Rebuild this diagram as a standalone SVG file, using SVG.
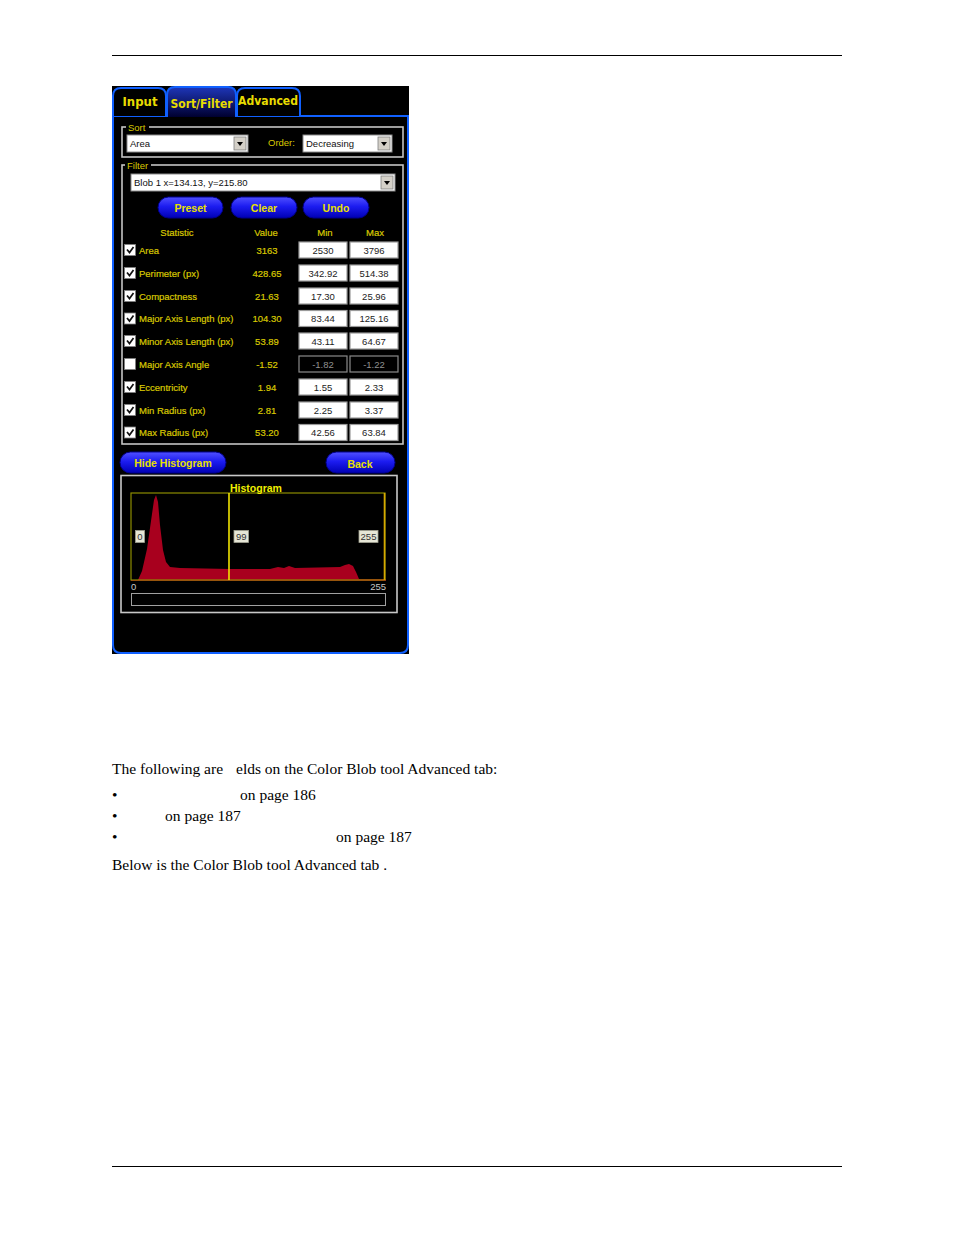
<svg xmlns="http://www.w3.org/2000/svg" width="954" height="1235" viewBox="0 0 954 1235">
<defs>
<linearGradient id="btn" x1="0" y1="0" x2="0" y2="1">
<stop offset="0" stop-color="#5050ff"/>
<stop offset="0.45" stop-color="#1c1cf0"/>
<stop offset="1" stop-color="#0000b4"/>
</linearGradient>
<linearGradient id="seltab" x1="0" y1="0" x2="0" y2="1">
<stop offset="0" stop-color="#1e36b8"/>
<stop offset="1" stop-color="#000030"/>
</linearGradient>
</defs>
<style>
.page{font-family:"Liberation Serif","Times New Roman",serif;font-size:15.5px;fill:#000}
.tab{font-family:"DejaVu Sans",Verdana,sans-serif;font-size:12.5px;font-weight:bold;fill:#e8dc00;text-anchor:middle}
.tabp{fill:#000;stroke:#1060ff;stroke-width:2}
.ui{font-family:"Liberation Sans",Arial,sans-serif;font-size:9.5px}
.yl{fill:#d8c800}
.lbl{fill:#d8c800;stroke:#d8c800;stroke-width:0.2}
.val{fill:#d8c800;stroke:#d8c800;stroke-width:0.2;text-anchor:middle}
.box{fill:#fff;stroke:#9a9a9a;stroke-width:1.2}
.boxd{fill:#000;stroke:#8a8a8a;stroke-width:1.2}
.bt{fill:#222;text-anchor:middle}
.btd{fill:#909090;text-anchor:middle}
.cb{fill:#fff;stroke:#808080;stroke-width:0.8}
.ck{fill:none;stroke:#111;stroke-width:1.7}
.grp{fill:none;stroke:#c4c4c4;stroke-width:1.6}
.btn{fill:url(#btn);stroke:#00008a;stroke-width:1}
.btx{font-family:"Liberation Sans",Arial,sans-serif;font-size:10.5px;font-weight:bold;fill:#e8e000;text-anchor:middle}
.dd{fill:#fff;stroke:#8c8c8c;stroke-width:1}
.ddb{fill:#d4d0c8;stroke:#808080;stroke-width:0.8}
.hl{fill:#e6e6d6;stroke:#a0a090;stroke-width:0.8}
</style>
<rect width="954" height="1235" fill="#fff"/>
<g id="page-rules" stroke="#000" stroke-width="1">
<line x1="112" y1="55.5" x2="842" y2="55.5"/>
<line x1="112" y1="1166.5" x2="842" y2="1166.5"/>
</g>

<g id="panel">
<rect x="112" y="86" width="297" height="568" fill="#000"/>
<path d="M113,116 V645 Q113,653 121,653 H400 Q408,653 408,645 V116" fill="none" stroke="#1060ff" stroke-width="2"/>
<line x1="112" y1="116" x2="167" y2="116" stroke="#1060ff" stroke-width="2"/>
<line x1="236" y1="116" x2="409" y2="116" stroke="#1060ff" stroke-width="2"/>
</g>

<g id="tab-input">
<path class="tabp" d="M113,116 V96 Q113,88 121,88 H158 Q166,88 166,96 V116"/>
<text class="tab" x="140" y="106" textLength="35" lengthAdjust="spacingAndGlyphs">Input</text>
</g>
<g id="tab-sortfilter">
<path d="M167,117 V95 Q167,87 175,87 H228 Q236,87 236,95 V117" fill="url(#seltab)" stroke="#1060ff" stroke-width="2"/>
<text class="tab" x="201.5" y="108" textLength="62" lengthAdjust="spacingAndGlyphs">Sort/Filter</text>
</g>
<g id="tab-advanced">
<path class="tabp" d="M237,116 V96 Q237,88 245,88 H292 Q300,88 300,96 V116"/>
<text class="tab" x="268" y="105" textLength="60" lengthAdjust="spacingAndGlyphs">Advanced</text>
</g>

<g id="sort-group">
<rect class="grp" x="122" y="127" width="281" height="30"/>
<rect x="126" y="123" width="23" height="8" fill="#000"/>
<text class="ui yl" x="128" y="131" font-size="9">Sort</text>
<g id="sort-dropdown">
<rect class="dd" x="127" y="135" width="121" height="17"/>
<text class="ui" x="130" y="147" fill="#111">Area</text>
<rect class="ddb" x="234" y="137" width="12" height="13"/>
<path d="M237,142 h6 l-3,4 z" fill="#000"/>
</g>
<text class="ui yl" x="268" y="146">Order:</text>
<g id="order-dropdown">
<rect class="dd" x="303" y="135" width="89" height="17"/>
<text class="ui" x="306" y="147" fill="#111">Decreasing</text>
<rect class="ddb" x="378" y="137" width="12" height="13"/>
<path d="M381,142 h6 l-3,4 z" fill="#000"/>
</g>
</g>

<g id="filter-group">
<rect class="grp" x="122" y="165" width="281" height="279"/>
<rect x="125" y="161" width="26" height="8" fill="#000"/>
<text class="ui yl" x="127" y="169" font-size="9">Filter</text>
<g id="blob-dropdown">
<rect class="dd" x="131" y="174" width="264" height="17"/>
<text class="ui" x="134" y="186" fill="#111">Blob 1 x=134.13, y=215.80</text>
<rect class="ddb" x="381" y="176" width="12" height="13"/>
<path d="M384,181 h6 l-3,4 z" fill="#000"/>
</g>
</g>

<g id="btn-preset">
<rect class="btn" x="158" y="197" width="65" height="21" rx="10.5"/>
<text class="btx" x="190.5" y="211.5">Preset</text>
</g>
<g id="btn-clear">
<rect class="btn" x="231" y="197" width="66" height="21" rx="10.5"/>
<text class="btx" x="264" y="211.5">Clear</text>
</g>
<g id="btn-undo">
<rect class="btn" x="303" y="197" width="66" height="21" rx="10.5"/>
<text class="btx" x="336" y="211.5">Undo</text>
</g>

<g id="headers" class="ui">
<text class="val" x="177" y="235.5">Statistic</text>
<text class="val" x="266" y="235.5">Value</text>
<text class="val" x="325" y="235.5">Min</text>
<text class="val" x="375" y="235.5">Max</text>
</g>

<g id="row-area" class="ui">
<rect class="cb" x="124.5" y="244.5" width="11" height="11"/><path class="ck" d="M127,249.5 l2.5,3 l4,-5.5"/>
<text class="lbl" x="139" y="253.5">Area</text>
<text class="val" x="267" y="253.5">3163</text>
<rect class="box" x="299" y="242" width="48" height="16"/><text class="bt" x="323" y="253.5">2530</text>
<rect class="box" x="350" y="242" width="48" height="16"/><text class="bt" x="374" y="253.5">3796</text>
</g>
<g id="row-perimeter" class="ui">
<rect class="cb" x="124.5" y="267.5" width="11" height="11"/><path class="ck" d="M127,272.5 l2.5,3 l4,-5.5"/>
<text class="lbl" x="139" y="276.5">Perimeter (px)</text>
<text class="val" x="267" y="276.5">428.65</text>
<rect class="box" x="299" y="265" width="48" height="16"/><text class="bt" x="323" y="276.5">342.92</text>
<rect class="box" x="350" y="265" width="48" height="16"/><text class="bt" x="374" y="276.5">514.38</text>
</g>
<g id="row-compactness" class="ui">
<rect class="cb" x="124.5" y="290.5" width="11" height="11"/><path class="ck" d="M127,295.5 l2.5,3 l4,-5.5"/>
<text class="lbl" x="139" y="299.5">Compactness</text>
<text class="val" x="267" y="299.5">21.63</text>
<rect class="box" x="299" y="288" width="48" height="16"/><text class="bt" x="323" y="299.5">17.30</text>
<rect class="box" x="350" y="288" width="48" height="16"/><text class="bt" x="374" y="299.5">25.96</text>
</g>
<g id="row-major-length" class="ui">
<rect class="cb" x="124.5" y="313" width="11" height="11"/><path class="ck" d="M127,318 l2.5,3 l4,-5.5"/>
<text class="lbl" x="139" y="322">Major Axis Length (px)</text>
<text class="val" x="267" y="322">104.30</text>
<rect class="box" x="299" y="310.5" width="48" height="16"/><text class="bt" x="323" y="322">83.44</text>
<rect class="box" x="350" y="310.5" width="48" height="16"/><text class="bt" x="374" y="322">125.16</text>
</g>
<g id="row-minor-length" class="ui">
<rect class="cb" x="124.5" y="335.5" width="11" height="11"/><path class="ck" d="M127,340.5 l2.5,3 l4,-5.5"/>
<text class="lbl" x="139" y="344.5">Minor Axis Length (px)</text>
<text class="val" x="267" y="344.5">53.89</text>
<rect class="box" x="299" y="333" width="48" height="16"/><text class="bt" x="323" y="344.5">43.11</text>
<rect class="box" x="350" y="333" width="48" height="16"/><text class="bt" x="374" y="344.5">64.67</text>
</g>
<g id="row-major-angle" class="ui">
<rect class="cb" x="124.5" y="358.5" width="11" height="11"/>
<text class="lbl" x="139" y="367.5">Major Axis Angle</text>
<text class="val" x="267" y="367.5">-1.52</text>
<rect class="boxd" x="299" y="356" width="48" height="16"/><text class="btd" x="323" y="367.5">-1.82</text>
<rect class="boxd" x="350" y="356" width="48" height="16"/><text class="btd" x="374" y="367.5">-1.22</text>
</g>
<g id="row-eccentricity" class="ui">
<rect class="cb" x="124.5" y="381.5" width="11" height="11"/><path class="ck" d="M127,386.5 l2.5,3 l4,-5.5"/>
<text class="lbl" x="139" y="390.5">Eccentricity</text>
<text class="val" x="267" y="390.5">1.94</text>
<rect class="box" x="299" y="379" width="48" height="16"/><text class="bt" x="323" y="390.5">1.55</text>
<rect class="box" x="350" y="379" width="48" height="16"/><text class="bt" x="374" y="390.5">2.33</text>
</g>
<g id="row-min-radius" class="ui">
<rect class="cb" x="124.5" y="404.5" width="11" height="11"/><path class="ck" d="M127,409.5 l2.5,3 l4,-5.5"/>
<text class="lbl" x="139" y="413.5">Min Radius (px)</text>
<text class="val" x="267" y="413.5">2.81</text>
<rect class="box" x="299" y="402" width="48" height="16"/><text class="bt" x="323" y="413.5">2.25</text>
<rect class="box" x="350" y="402" width="48" height="16"/><text class="bt" x="374" y="413.5">3.37</text>
</g>
<g id="row-max-radius" class="ui">
<rect class="cb" x="124.5" y="427" width="11" height="11"/><path class="ck" d="M127,432 l2.5,3 l4,-5.5"/>
<text class="lbl" x="139" y="436">Max Radius (px)</text>
<text class="val" x="267" y="436">53.20</text>
<rect class="box" x="299" y="424.5" width="48" height="16"/><text class="bt" x="323" y="436">42.56</text>
<rect class="box" x="350" y="424.5" width="48" height="16"/><text class="bt" x="374" y="436">63.84</text>
</g>

<g id="btn-hide-histogram">
<rect class="btn" x="120" y="452" width="106" height="21" rx="10.5"/>
<text class="btx" x="173" y="466.5">Hide Histogram</text>
</g>
<g id="btn-back">
<rect class="btn" x="326" y="452" width="69" height="21" rx="10.5"/>
<text class="btx" x="360" y="467.5">Back</text>
</g>

<g id="histogram">
<rect x="121" y="475.5" width="276" height="137" fill="none" stroke="#c8c8c8" stroke-width="1.6"/>
<path d="M131,580 L138,580 L142,571 L147,549 L151,521 L154,500 L156,495 L158,502 L160,525 L163,550 L166,562 L170,567 L180,568 L230,569 L270,569 L278,567 L284,568 L289,566 L295,568 L340,567 L345,565 L349,564 L353,566 L356,572 L359,579 L386,579 L386,581 L131,581 Z" fill="#a8001e"/>
<rect x="131" y="493" width="254" height="87" fill="none" stroke="#8c8c00" stroke-width="1.2"/>
<line x1="384.5" y1="493" x2="384.5" y2="580" stroke="#d8a800" stroke-width="1.6"/>
<line x1="229" y1="493" x2="229" y2="580" stroke="#f0e400" stroke-width="1.6"/>
<rect x="226" y="482" width="60" height="10" fill="#000"/>
<text class="btx" x="256" y="491.5" style="fill:#f0f000">Histogram</text>
<rect class="hl" x="135.5" y="530.5" width="9" height="12"/>
<text class="ui" x="140" y="540" fill="#333" text-anchor="middle" font-size="9">0</text>
<rect class="hl" x="234" y="530.5" width="14.5" height="12"/>
<text class="ui" x="241.3" y="540" fill="#333" text-anchor="middle" font-size="9">99</text>
<rect class="hl" x="359" y="530.5" width="19" height="12"/>
<text class="ui" x="368.5" y="540" fill="#333" text-anchor="middle" font-size="9">255</text>
<text class="ui" x="131" y="590" fill="#c8c8c8">0</text>
<text class="ui" x="386" y="590" fill="#c8c8c8" text-anchor="end">255</text>
<rect x="131.5" y="593.5" width="254" height="12" fill="none" stroke="#a0a0a0" stroke-width="1"/>
</g>

<g id="body-text" class="page">
<text x="112" y="774">The following are</text>
<text x="236" y="774">elds on the Color Blob tool Advanced tab:</text>
<text x="112" y="800">•</text>
<text x="240" y="800">on page 186</text>
<text x="112" y="821">•</text>
<text x="165" y="821">on page 187</text>
<text x="112" y="842">•</text>
<text x="336" y="842">on page 187</text>
<text x="112" y="870">Below is the Color Blob tool Advanced tab .</text>
</g>
</svg>
